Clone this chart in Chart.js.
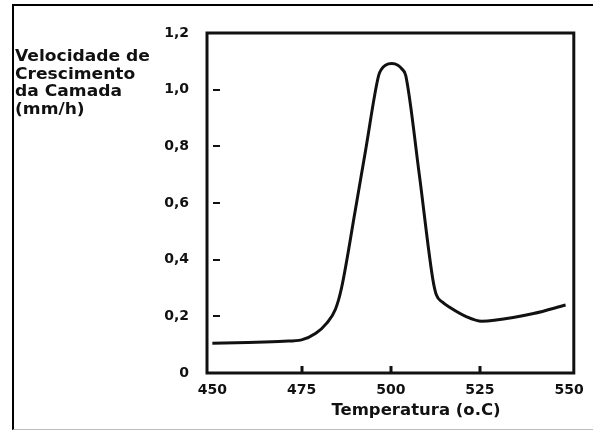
<!DOCTYPE html>
<html>
<head>
<meta charset="utf-8">
<script src="https://cdn.jsdelivr.net/npm/chart.js"></script>
<style>
  body { margin: 0; background: #fff; }
  #wrap { position: relative; width: 593px; height: 430px; overflow: hidden; }
  #frame { position: absolute; left: 12px; top: 4px; width: 585px; height: 423px;
           border-left: 2px solid #000; border-top: 2px solid #000; border-bottom: 1px solid #bbb; }
  canvas { position: absolute; left: 0; top: 0; }
  .lbl { position: absolute; font-family: "DejaVu Sans", sans-serif; font-weight: bold; color: #111; white-space: nowrap; }
  #ytitle { left: 15px; top: 48px; font-size: 15px; line-height: 17.5px; transform: scaleX(1.14); transform-origin: left top; }
  #xtitle { left: 416px; top: 400px; font-size: 16.5px; transform: translateX(-50%); }
</style>
</head>
<body>
<div id="wrap">
  <div id="frame"></div>
  <canvas id="myChart" width="593" height="430"></canvas>
  <div class="lbl" id="ytitle">Velocidade de<br>Crescimento<br>da Camada<br>(mm/h)</div>
  <div class="lbl" id="xtitle">Temperatura (o.C)</div>
</div>
<script>
// values
const temps = [450, 460, 470, 475, 479, 482, 484.5, 486.2, 490, 493, 496.6, 497.4, 498.5, 500.3, 502, 503.2, 504.2, 508, 511.8, 512.8, 514.5, 516.5, 521, 525.5, 529, 540, 549];
const rates = [0.105, 0.108, 0.112, 0.117, 0.14, 0.175, 0.225, 0.3, 0.57, 0.79, 1.05, 1.072, 1.086, 1.092, 1.086, 1.072, 1.05, 0.7, 0.33, 0.275, 0.25, 0.232, 0.2, 0.183, 0.186, 0.21, 0.24];
const xTicks = [450, 475, 500, 525, 550];
const yTicks = [0, 0.2, 0.4, 0.6, 0.8, 1.0, 1.2];

const points = temps.map((t, i) => ({x: t, y: rates[i]}));
const tickFont = {family: "DejaVu Sans", size: 14, weight: "bold"};

// plot frame + the little inward tick marks
const framePlugin = {
    id: 'framePlugin',
    afterDraw(chart) {
        const ctx = chart.ctx;
        const a = chart.chartArea;
        const xs = chart.scales.x, ys = chart.scales.y;
        ctx.save();
        ctx.strokeStyle = '#111';
        ctx.lineWidth = 3;
        ctx.strokeRect(a.left, a.top, a.right - a.left, a.bottom - a.top);
        ctx.lineWidth = 2;
        yTicks.slice(1, -1).forEach(v => {
            const y = Math.round(ys.getPixelForValue(v));
            ctx.beginPath();
            ctx.moveTo(a.left + 6, y);
            ctx.lineTo(a.left + 13, y);
            ctx.stroke();
        });
        ctx.lineWidth = 3;
        xTicks.slice(1, -1).forEach(v => {
            const x = Math.round(xs.getPixelForValue(v));
            ctx.beginPath();
            ctx.moveTo(x, a.bottom);
            ctx.lineTo(x, a.bottom - 7);
            ctx.stroke();
        });
        ctx.restore();
    }
};

var config = {
    type: 'line',
    data: {
        datasets: [{
            data: points,
            borderColor: '#111',
            borderWidth: 3,
            pointRadius: 0,
            fill: false,
            cubicInterpolationMode: 'monotone'
        }]
    },
    options: {
        responsive: false,
        animation: false,
        layout: { padding: { top: 33, right: 18, left: 0, bottom: 0 } },
        plugins: { legend: { display: false }, tooltip: { enabled: false } },
        scales: {
            x: {
                type: 'linear',
                min: 448.5,
                max: 551.3,
                afterBuildTicks: s => { s.ticks = xTicks.map(v => ({value: v})); },
                afterFit: s => { s.height = 57; },
                grid: { display: false, drawTicks: false },
                border: { display: false },
                ticks: { font: tickFont, color: '#111', padding: 9, maxRotation: 0, autoSkip: false }
            },
            y: {
                min: 0,
                max: 1.2,
                afterBuildTicks: s => { s.ticks = yTicks.map(v => ({value: v})); },
                afterFit: s => { s.width = 207; },
                grid: { display: false, drawTicks: false },
                border: { display: false },
                ticks: {
                    font: tickFont, color: '#111', padding: 18, autoSkip: false,
                    callback: v => v === 0 ? '0' : v.toFixed(1).replace('.', ',')
                }
            }
        }
    },
    plugins: [framePlugin]
};

var myChart = new Chart(document.getElementById('myChart'), config);
</script>
</body>
</html>
